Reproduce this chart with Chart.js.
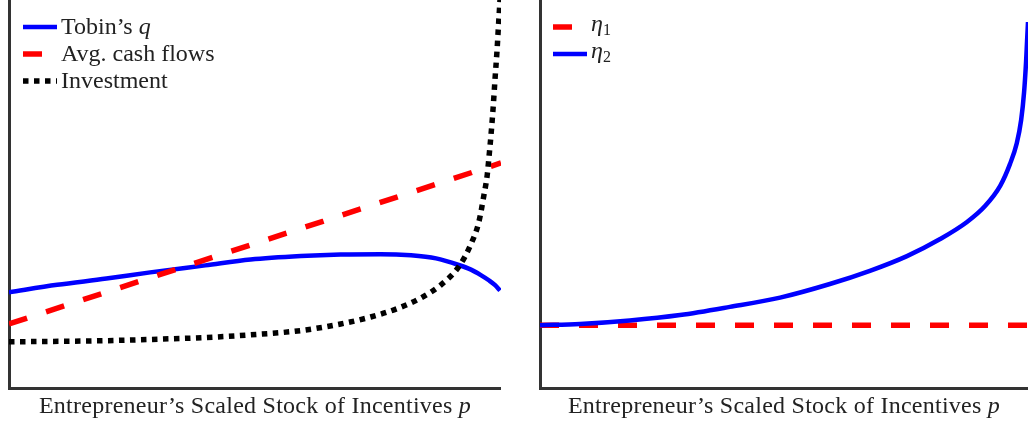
<!DOCTYPE html>
<html>
<head>
<meta charset="utf-8">
<script src="https://cdn.jsdelivr.net/npm/chart.js@4.4.1/dist/chart.umd.min.js"></script>
<style>
body { margin: 0; background: #fff; width: 1028px; height: 423px; overflow: hidden; position: relative; font-family: "Liberation Serif", serif; color: #222; }
.panel { position: absolute; top: 0; height: 423px; }
#left { left: 0; width: 501px; }
#right { left: 530px; width: 498px; }
.legend { position: absolute; left: 23px; top: 13px; font-size: 24px; line-height: 27px; }
.item { display: flex; align-items: center; height: 27px; }
.item canvas { margin-right: 4px; }
.xlabel { position: absolute; top: 392px; font-size: 24px; letter-spacing: 0.25px; white-space: nowrap; transform: translateX(-50%); }
sub { font-size: 16px; vertical-align: -4px; }
</style>
</head>
<body>
<div class="panel" id="left">
  <canvas id="leftChart" width="501" height="423"></canvas>
  <div class="legend" id="leftLegend"></div>
  <div class="xlabel" id="leftLabel">Entrepreneur’s Scaled Stock of Incentives <i>p</i></div>
</div>
<div class="panel" id="right">
  <canvas id="rightChart" width="498" height="423"></canvas>
  <div class="legend" id="rightLegend"></div>
  <div class="xlabel" id="rightLabel">Entrepreneur’s Scaled Stock of Incentives <i>p</i></div>
</div>
<script>
// left panel
const pTobin = [0, 0.098, 0.198, 0.287, 0.399, 0.491, 0.593, 0.674, 0.755, 0.817, 0.868, 0.914, 0.939, 0.959, 0.976, 0.988, 0.998];
const tobinQ = [2.47, 2.66, 2.82, 2.98, 3.16, 3.31, 3.40, 3.44, 3.45, 3.42, 3.34, 3.17, 3.05, 2.91, 2.77, 2.65, 2.51];
const pCash = [0, 1];
const avgCash = [1.65, 5.80];
const pInvest = [0, 0.198, 0.308, 0.399, 0.491, 0.593, 0.674, 0.735, 0.792, 0.837, 0.878, 0.915, 0.939, 0.955,
                 0.965, 0.972, 0.976, 0.980, 0.984, 0.988, 0.992, 0.994, 0.998];
const investment = [1.19, 1.22, 1.26, 1.30, 1.37, 1.48, 1.65, 1.83, 2.06, 2.32, 2.66, 3.14, 3.71, 4.28,
                    4.95, 5.49, 6.01, 6.57, 7.22, 7.99, 8.71, 9.15, 10.0];

// right panel
const pEta1 = [0, 1];
const eta1 = [1.62, 1.62];
const pEta2 = [0, 0.082, 0.184, 0.287, 0.389, 0.492, 0.594, 0.676, 0.752, 0.820, 0.875, 0.912, 0.943,
               0.963, 0.977, 0.986, 0.992, 0.996, 0.998, 1.0];
const eta2 = [1.62, 1.65, 1.74, 1.88, 2.09, 2.33, 2.68, 3.02, 3.40, 3.84, 4.28, 4.69, 5.21,
              5.77, 6.31, 6.91, 7.63, 8.40, 8.92, 9.43];

const leftNames = ["Tobin’s <i>q</i>", "Avg. cash flows", "Investment"];
const rightNames = ["<i>η</i><sub>1</sub>", "<i>η</i><sub>2</sub>"];

const BLUE = "#0000ff", RED = "#ff0000", BLACK = "#000000";

function toPoints(xs, ys) {
    return xs.map((x, i) => ({ x: x, y: ys[i] }));
}

function line(label, xs, ys, color, width, dash, order) {
    return {
        label: label,
        data: toPoints(xs, ys),
        borderColor: color,
        borderWidth: width,
        borderDash: dash,
        borderCapStyle: "butt",
        pointRadius: 0,
        cubicInterpolationMode: "monotone",
        fill: false,
        order: order
    };
}

function makeChart(id, datasets, yAxisWidth) {
    const axis = {
        display: true,
        grid: { display: false },
        ticks: { display: false },
        border: { display: true, color: "#333", width: 3 }
    };
    return new Chart(document.getElementById(id), {
        type: "line",
        data: { datasets: datasets },
        options: {
            responsive: false,
            animation: false,
            layout: { padding: 0 },
            plugins: { legend: { display: false }, tooltip: { enabled: false } },
            scales: {
                x: Object.assign({}, axis, { type: "linear", min: 0, max: 1, afterFit: s => { s.height = 35; } }),
                y: Object.assign({}, axis, { min: 0, max: 10, afterFit: s => { s.width = yAxisWidth; } })
            }
        }
    });
}

function makeLegend(id, chart, names) {
    const box = document.getElementById(id);
    chart.data.datasets.forEach((ds, i) => {
        const item = document.createElement("div");
        item.className = "item";
        const c = document.createElement("canvas");
        c.width = 34; c.height = 12;
        const ctx = c.getContext("2d");
        ctx.strokeStyle = ds.borderColor;
        ctx.lineWidth = ds.borderWidth;
        ctx.setLineDash(ds.borderDash);
        ctx.beginPath();
        ctx.moveTo(0, 6);
        ctx.lineTo(34, 6);
        ctx.stroke();
        item.appendChild(c);
        const t = document.createElement("span");
        t.innerHTML = names[i];
        item.appendChild(t);
        box.appendChild(item);
    });
}

function placeLabel(id, chart) {
    const a = chart.chartArea;
    document.getElementById(id).style.left = ((a.left + a.right) / 2) + "px";
}

const leftChart = makeChart("leftChart", [
    line("Tobin's q", pTobin, tobinQ, BLUE, 4.5, [], 3),
    line("Avg. cash flows", pCash, avgCash, RED, 5.5, [19, 20], 2),
    line("Investment", pInvest, investment, BLACK, 5.5, [5.5, 5.5], 1)
], 9);

const rightChart = makeChart("rightChart", [
    line("η1", pEta1, eta1, RED, 5.5, [19, 20], 2),
    line("η2", pEta2, eta2, BLUE, 4.5, [], 1)
], 10);

makeLegend("leftLegend", leftChart, leftNames);
makeLegend("rightLegend", rightChart, rightNames);
placeLabel("leftLabel", leftChart);
placeLabel("rightLabel", rightChart);
</script>
</body>
</html>
